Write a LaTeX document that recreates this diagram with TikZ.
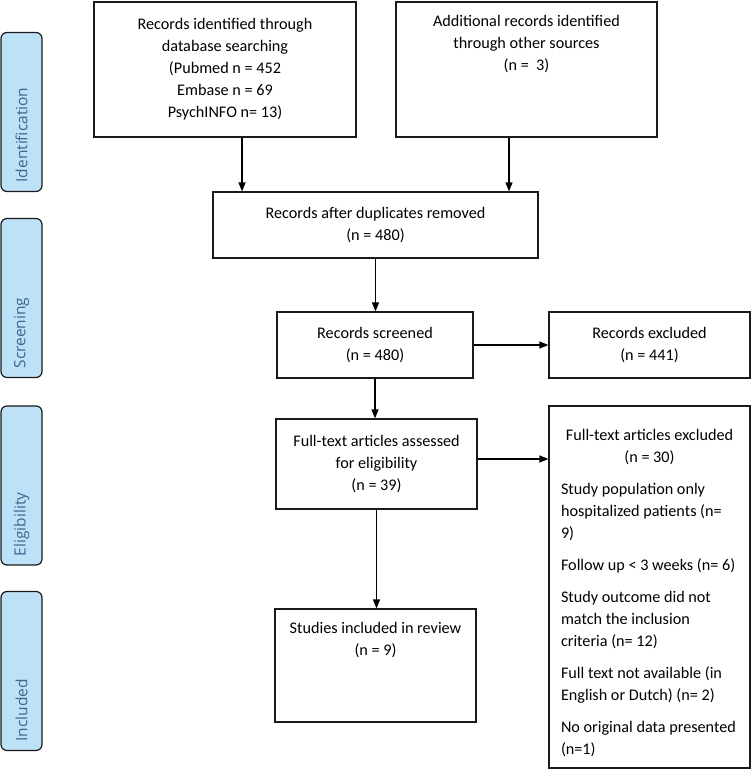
\documentclass[tikz,border=0pt]{standalone}
\usepackage{fontspec}
\setmainfont{Carlito}
\newfontfamily\phasefont{Open Sans}
\usetikzlibrary{arrows.meta}
\definecolor{tabblue}{HTML}{BDE1F7}
\definecolor{tabtext}{HTML}{3F6790}
\definecolor{boxline}{HTML}{1A1A1A}

\begin{document}
\begin{tikzpicture}[x=1pt,y=-1pt,
  box/.style={draw=boxline,line width=1.2pt,align=center,inner sep=0pt,font=\fontsize{16.2}{22}\selectfont},
  phase/.style={draw=boxline,line width=1.2pt,fill=tabblue,rounded corners=6pt,rotate=90,minimum height=41pt,
    text width=141pt,inner xsep=9pt,align=left,font=\phasefont\fontsize{15.5}{18}\selectfont,text=tabtext},
  flow/.style={line width=1.2pt,-{Triangle[length=9pt,width=7pt]}}]
\useasboundingbox (0,0) rectangle (751,771);
% phase tabs
\node[phase] (ident) at (21.5,112) {Identification};
\node[phase] (screen) at (21.5,298) {Screening};
\node[phase] (elig) at (21.5,485.5) {Eligibility};
\node[phase] (incl) at (21.5,671) {Included};
% boxes
\node[box,minimum width=262pt,minimum height=135pt] (srcdb) at (225,69.5)
  {Records identified through\\database searching\\(Pubmed n = 452\\Embase n = 69\\PsychINFO n= 13)};
\node[box] (srcother) at (526.5,69.5)
  {\parbox[c][135pt][t]{261pt}{\vspace*{13pt}\centering Additional records identified\\through other sources\\(n =\ \ 3)}};
\node[box,minimum width=325pt,minimum height=66pt] (dedup) at (375.5,225)
  {Records after duplicates removed\\(n = 480)};
\node[box,minimum width=196pt,minimum height=66pt] (screened) at (375,345)
  {Records screened\\(n = 480)};
\node[box,minimum width=201pt,minimum height=66pt] (excl1) at (649.5,345)
  {Records excluded\\(n = 441)};
\node[box,minimum width=201pt,minimum height=90pt] (fulltext) at (376.5,464)
  {Full-text articles assessed\\for eligibility\\(n = 39)};
\node[box] (excl2) at (649.5,587)
  {\parbox[c][362pt][t]{201pt}{\vspace*{13pt}\setlength{\parskip}{10pt}%
   \centering Full-text articles excluded\\(n = 30)\par
   \raggedright\leftskip=12pt
   Study population only\\hospitalized patients (n=\\9)\par
   Follow up < 3 weeks (n= 6)\par
   Study outcome did not\\match the inclusion\\criteria (n= 12)\par
   Full text not available (in\\English or Dutch) (n= 2)\par
   No original data presented\\(n=1)\par}};
\node[box] (included) at (375.5,665.5)
  {\parbox[c][113pt][t]{201pt}{\vspace*{13pt}\centering Studies included in review\\(n = 9)}};
% arrows
\draw[flow] ([xshift=17pt]srcdb.south) -- ([xshift=17pt]srcdb.south |- dedup.north);
\draw[flow] ([xshift=-17.5pt]srcother.south) -- ([xshift=-17.5pt]srcother.south |- dedup.north);
\draw[flow] (dedup.south) -- (dedup.south |- screened.north);
\draw[flow] (screened.east) -- (excl1.west);
\draw[flow] (screened.south) -- (screened.south |- fulltext.north);
\draw[flow] ([yshift=5pt]fulltext.east) -- ([yshift=5pt]fulltext.east -| excl2.west);
\draw[flow] (fulltext.south) -- (fulltext.south |- included.north);
\end{tikzpicture}
\end{document}
